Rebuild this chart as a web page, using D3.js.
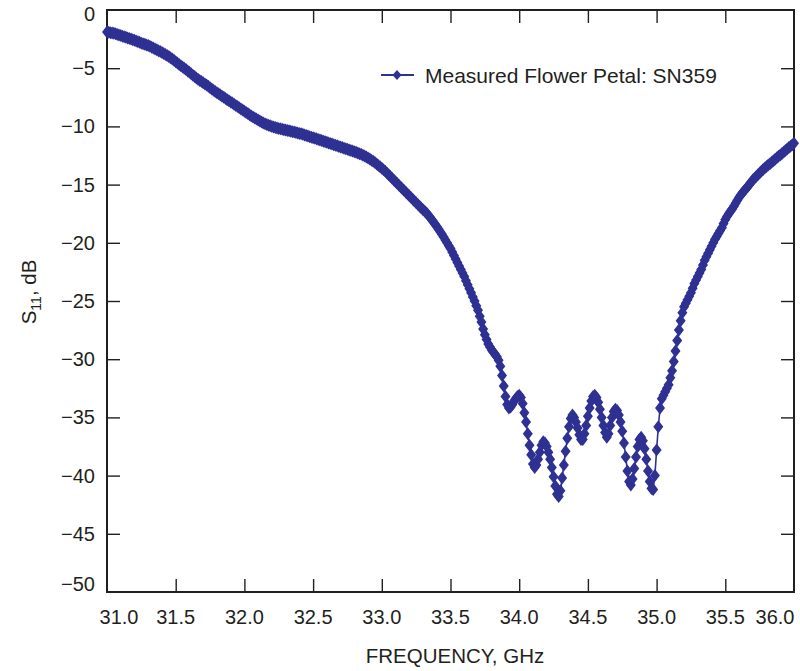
<!DOCTYPE html>
<html><head><meta charset="utf-8">
<script src="https://cdn.jsdelivr.net/npm/d3@7"></script>
<style>html,body{margin:0;padding:0;background:#fff;} svg{display:block;}</style>
</head><body><svg id="chart" width="800" height="671"></svg>
<script>
// ---------------- DATA ----------------
const freqGHz = [
31.0,31.0125,31.025,31.0375,31.05,31.0625,31.075,31.0875,
31.1,31.1125,31.125,31.1375,31.15,31.1625,31.175,31.1875,
31.2,31.2125,31.225,31.2375,31.25,31.2625,31.275,31.2875,
31.3,31.3125,31.325,31.3375,31.35,31.3625,31.375,31.3875,
31.4,31.4125,31.425,31.4375,31.45,31.4625,31.475,31.4875,
31.5,31.5125,31.525,31.5375,31.55,31.5625,31.575,31.5875,
31.6,31.6125,31.625,31.6375,31.65,31.6625,31.675,31.6875,
31.7,31.7125,31.725,31.7375,31.75,31.7625,31.775,31.7875,
31.8,31.8125,31.825,31.8375,31.85,31.8625,31.875,31.8875,
31.9,31.9125,31.925,31.9375,31.95,31.9625,31.975,31.9875,
32.0,32.0125,32.025,32.0375,32.05,32.0625,32.075,32.0875,
32.1,32.1125,32.125,32.1375,32.15,32.1625,32.175,32.1875,
32.2,32.2125,32.225,32.2375,32.25,32.2625,32.275,32.2875,
32.3,32.3125,32.325,32.3375,32.35,32.3625,32.375,32.3875,
32.4,32.4125,32.425,32.4375,32.45,32.4625,32.475,32.4875,
32.5,32.5125,32.525,32.5375,32.55,32.5625,32.575,32.5875,
32.6,32.6125,32.625,32.6375,32.65,32.6625,32.675,32.6875,
32.7,32.7125,32.725,32.7375,32.75,32.7625,32.775,32.7875,
32.8,32.8125,32.825,32.8375,32.85,32.8625,32.875,32.8875,
32.9,32.9125,32.925,32.9375,32.95,32.9625,32.975,32.9875,
33.0,33.0125,33.025,33.0375,33.05,33.0625,33.075,33.0875,
33.1,33.1125,33.125,33.1375,33.15,33.1625,33.175,33.1875,
33.2,33.2125,33.225,33.2375,33.25,33.2625,33.275,33.2875,
33.3,33.3125,33.325,33.3375,33.35,33.3625,33.375,33.3875,
33.4,33.4125,33.425,33.4375,33.45,33.4625,33.475,33.4875,
33.5,33.5125,33.525,33.5375,33.55,33.5625,33.575,33.5875,
33.6,33.6125,33.625,33.6375,33.65,33.6625,33.675,33.6875,
33.7,33.7125,33.725,33.7375,33.75,33.7625,33.775,33.7875,
33.8,33.8125,33.825,33.8375,33.85,33.8625,33.875,33.8875,
33.9,33.9125,33.925,33.9375,33.95,33.9625,33.975,33.9875,
34.0,34.0125,34.025,34.0375,34.05,34.0625,34.075,34.0875,
34.1,34.1125,34.125,34.1375,34.15,34.1625,34.175,34.1875,
34.2,34.2125,34.225,34.2375,34.25,34.2625,34.275,34.2875,
34.3,34.3125,34.325,34.3375,34.35,34.3625,34.375,34.3875,
34.4,34.4125,34.425,34.4375,34.45,34.4625,34.475,34.4875,
34.5,34.5125,34.525,34.5375,34.55,34.5625,34.575,34.5875,
34.6,34.6125,34.625,34.6375,34.65,34.6625,34.675,34.6875,
34.7,34.7125,34.725,34.7375,34.75,34.7625,34.775,34.7875,
34.8,34.8125,34.825,34.8375,34.85,34.8625,34.875,34.8875,
34.9,34.9125,34.925,34.9375,34.95,34.9625,34.975,34.9875,
35.0,35.0125,35.025,35.0375,35.05,35.0625,35.075,35.0875,
35.1,35.1125,35.125,35.1375,35.15,35.1625,35.175,35.1875,
35.2,35.2125,35.225,35.2375,35.25,35.2625,35.275,35.2875,
35.3,35.3125,35.325,35.3375,35.35,35.3625,35.375,35.3875,
35.4,35.4125,35.425,35.4375,35.45,35.4625,35.475,35.4875,
35.5,35.5125,35.525,35.5375,35.55,35.5625,35.575,35.5875,
35.6,35.6125,35.625,35.6375,35.65,35.6625,35.675,35.6875,
35.7,35.7125,35.725,35.7375,35.75,35.7625,35.775,35.7875,
35.8,35.8125,35.825,35.8375,35.85,35.8625,35.875,35.8875,
35.9,35.9125,35.925,35.9375,35.95,35.9625,35.975,35.9875,
36.0
];
const s11dB = [
-1.9,-1.92,-1.95,-1.97,-2.0,-2.05,-2.1,-2.15,
-2.2,-2.25,-2.3,-2.35,-2.4,-2.45,-2.5,-2.55,
-2.6,-2.66,-2.72,-2.78,-2.85,-2.9,-2.95,-3.0,
-3.05,-3.12,-3.2,-3.27,-3.35,-3.42,-3.5,-3.57,
-3.65,-3.73,-3.82,-3.91,-4.0,-4.1,-4.2,-4.32,
-4.45,-4.56,-4.68,-4.79,-4.9,-5.01,-5.12,-5.23,
-5.35,-5.47,-5.6,-5.72,-5.85,-5.95,-6.05,-6.15,
-6.25,-6.35,-6.45,-6.56,-6.68,-6.79,-6.9,-7.0,
-7.1,-7.2,-7.3,-7.4,-7.5,-7.6,-7.7,-7.8,
-7.9,-8.0,-8.1,-8.2,-8.3,-8.4,-8.5,-8.6,
-8.7,-8.8,-8.9,-9.0,-9.1,-9.19,-9.28,-9.36,
-9.45,-9.53,-9.62,-9.7,-9.78,-9.84,-9.9,-9.95,
-10.0,-10.05,-10.1,-10.14,-10.18,-10.21,-10.25,-10.28,
-10.32,-10.35,-10.38,-10.41,-10.45,-10.48,-10.52,-10.56,
-10.6,-10.64,-10.68,-10.73,-10.78,-10.83,-10.88,-10.93,
-10.98,-11.02,-11.07,-11.12,-11.17,-11.22,-11.27,-11.32,
-11.37,-11.42,-11.47,-11.52,-11.57,-11.62,-11.67,-11.72,
-11.77,-11.82,-11.87,-11.92,-11.97,-12.02,-12.07,-12.12,
-12.17,-12.22,-12.28,-12.34,-12.4,-12.47,-12.55,-12.63,
-12.72,-12.81,-12.9,-13.0,-13.1,-13.22,-13.35,-13.47,
-13.6,-13.72,-13.85,-14.0,-14.15,-14.3,-14.45,-14.6,
-14.75,-14.9,-15.05,-15.2,-15.35,-15.5,-15.65,-15.8,
-15.95,-16.1,-16.25,-16.4,-16.55,-16.7,-16.85,-17.0,
-17.15,-17.3,-17.45,-17.62,-17.8,-18.0,-18.2,-18.4,
-18.6,-18.82,-19.05,-19.27,-19.5,-19.75,-20.0,-20.25,
-20.5,-20.8,-21.1,-21.4,-21.7,-22.0,-22.3,-22.6,
-22.9,-23.25,-23.6,-23.95,-24.3,-24.65,-25.0,-25.4,
-25.8,-26.3,-26.8,-27.4,-27.9,-28.3,-28.7,-28.95,
-29.2,-29.4,-29.6,-29.8,-30.1,-30.6,-31.4,-32.3,
-33.2,-33.9,-34.2,-34.1,-33.9,-33.6,-33.4,-33.2,
-33.1,-33.3,-33.8,-34.6,-35.4,-36.4,-37.4,-38.2,
-39.0,-39.3,-39.1,-38.6,-38.0,-37.4,-37.1,-37.2,
-37.5,-38.0,-38.6,-39.3,-40.1,-40.9,-41.6,-41.8,
-41.3,-40.2,-39.1,-37.9,-36.8,-35.8,-35.1,-34.8,
-35.0,-35.4,-35.9,-36.5,-36.9,-36.9,-36.4,-35.7,
-34.9,-34.2,-33.6,-33.2,-33.1,-33.3,-33.7,-34.3,
-35.0,-35.7,-36.3,-36.7,-36.4,-35.7,-35.0,-34.5,
-34.3,-34.4,-34.8,-35.4,-36.2,-37.2,-38.4,-39.6,
-40.5,-40.8,-40.3,-39.4,-38.4,-37.5,-36.9,-36.7,
-37.0,-37.7,-38.6,-39.6,-40.5,-41.1,-41.2,-40.0,
-37.8,-35.8,-34.2,-33.4,-33.1,-32.8,-32.5,-32.2,
-31.6,-31.0,-30.2,-29.3,-28.4,-27.5,-26.7,-26.0,
-25.5,-25.2,-24.9,-24.6,-24.3,-23.9,-23.5,-23.2,
-22.9,-22.6,-22.3,-21.9,-21.5,-21.2,-20.9,-20.6,
-20.3,-20.0,-19.7,-19.45,-19.2,-18.95,-18.7,-18.35,
-18.0,-17.75,-17.5,-17.3,-17.1,-16.85,-16.6,-16.35,
-16.1,-15.9,-15.7,-15.52,-15.35,-15.18,-15.0,-14.8,
-14.6,-14.45,-14.3,-14.15,-14.0,-13.85,-13.7,-13.57,
-13.45,-13.32,-13.2,-13.07,-12.95,-12.82,-12.7,-12.57,
-12.45,-12.32,-12.2,-12.07,-11.95,-11.82,-11.7,-11.57,
-11.45
];
const xTickValues = [31.0,31.5,32.0,32.5,33.0,33.5,34.0,34.5,35.0,35.5,36.0];
const xTickLabels = ["31.0","31.5","32.0","32.5","33.0","33.5","34.0","34.5","35.0","35.5","36.0"];
const yTickValues = [0,-5,-10,-15,-20,-25,-30,-35,-40,-45,-50];
const yTickLabels = ["0","\u22125","\u221210","\u221215","\u221220","\u221225","\u221230","\u221235","\u221240","\u221245","\u221250"];
const seriesName = "Measured Flower Petal: SN359";
const xTitle = "FREQUENCY, GHz";

// ---------------- CHART ----------------
const ink = "#231f20", blue = "#2e3192";
const font = "'Liberation Sans', Arial, Helvetica, sans-serif";
const box = {left:107, right:794, top:10, bottom:592};
const x = d3.scaleLinear().domain([31,36]).range([box.left, box.right]);
const y = d3.scaleLinear().domain([0,-50]).range([box.top, box.bottom]);
const svg = d3.select("#chart");
const T = 13; // inward tick length

const innerX = xTickValues.filter(v => v > 31 && v < 36);
const innerY = yTickValues.filter(v => v < 0 && v > -50);

function styleAxis(g){
  g.select(".domain").remove();
  g.selectAll(".tick line").attr("stroke", ink).attr("stroke-width", 1.4);
  g.selectAll(".tick text").remove();
}
svg.append("g").attr("transform", `translate(0,${box.bottom})`)
  .call(d3.axisBottom(x).tickValues(innerX).tickSize(-T)).call(styleAxis);
svg.append("g").attr("transform", `translate(0,${box.top})`)
  .call(d3.axisTop(x).tickValues(innerX).tickSize(-T)).call(styleAxis);
svg.append("g").attr("transform", `translate(${box.left},0)`)
  .call(d3.axisLeft(y).tickValues(innerY).tickSize(-T)).call(styleAxis);
svg.append("g").attr("transform", `translate(${box.right},0)`)
  .call(d3.axisRight(y).tickValues(innerY).tickSize(-T)).call(styleAxis);

svg.append("rect")
  .attr("x", box.left).attr("y", box.top)
  .attr("width", box.right - box.left).attr("height", box.bottom - box.top)
  .attr("fill", "none").attr("stroke", ink).attr("stroke-width", 2);

// x tick labels
svg.append("g").selectAll("text").data(xTickValues).join("text")
  .attr("x", (d,i) => x(d) + (i === 0 ? 12 : (i === xTickValues.length-1 ? -19 : 0)))
  .attr("y", 624)
  .attr("text-anchor", "middle")
  .attr("font-family", font).attr("font-size", 20).attr("fill", ink)
  .text((d,i) => xTickLabels[i]);

// y tick labels
svg.append("g").selectAll("text").data(yTickValues).join("text")
  .attr("x", 95)
  .attr("y", (d,i) => y(d) + 7 + (i === 0 ? 4 : (i === yTickValues.length-1 ? -8 : 0)))
  .attr("text-anchor", "end")
  .attr("font-family", font).attr("font-size", 20).attr("fill", ink)
  .text((d,i) => yTickLabels[i]);

// axis titles
svg.append("text").attr("x", 455).attr("y", 663).attr("text-anchor", "middle")
  .attr("font-family", font).attr("font-size", 20.5).attr("fill", ink).text(xTitle);

const yt = svg.append("text").attr("transform", "translate(36,292) rotate(-90)")
  .attr("text-anchor", "middle")
  .attr("font-family", font).attr("font-size", 20.5).attr("fill", ink);
yt.append("tspan").text("S");
yt.append("tspan").attr("font-size", 14).attr("dy", 5).text("11");
yt.append("tspan").attr("dy", -5).text(", dB");

// series
const pts = freqGHz.map((f,i) => [f, s11dB[i]]);
const diamond = "M0,-6.5L5,0L0,6.5L-5,0Z";
const plot = svg.append("g");
plot.append("path").datum(pts)
  .attr("d", d3.line().x(d => x(d[0])).y(d => y(d[1])))
  .attr("fill", "none").attr("stroke", blue).attr("stroke-width", 1.6);
plot.selectAll("path.m").data(pts).join("path").attr("class", "m")
  .attr("transform", d => `translate(${x(d[0])},${y(d[1])})`)
  .attr("d", diamond).attr("fill", blue);

// legend
const lg = svg.append("g");
lg.append("line").attr("x1", 381).attr("x2", 414).attr("y1", 75).attr("y2", 75)
  .attr("stroke", blue).attr("stroke-width", 2);
lg.append("path").attr("transform", "translate(397,75)").attr("d", "M0,-5L4.5,0L0,5L-4.5,0Z").attr("fill", blue);
lg.append("text").attr("x", 425).attr("y", 82.5)
  .attr("font-family", font).attr("font-size", 21).attr("fill", ink).text(seriesName);
</script>
</body></html>
